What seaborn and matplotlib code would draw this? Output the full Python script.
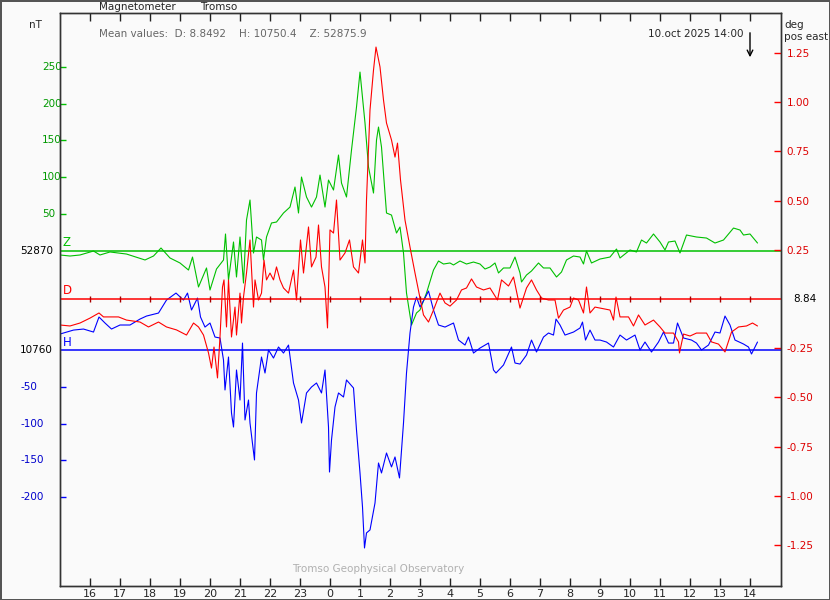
import matplotlib
matplotlib.use("Agg")
import matplotlib.pyplot as plt
import matplotlib.transforms as mtransforms
import pandas as pd
import seaborn as sns

# Baselines of the three components and the daily means
Z_BASE = 52870
H_BASE = 10760
D_BASE = 8.84
mean_D, mean_H, mean_Z = 8.8492, 10750.4, 52875.9

# Z: minutes after 15:00 UT, deviation from baseline in nT
z_min = [0, 20, 40, 67, 80, 100, 133, 170, 187, 202, 220, 240, 257, 265, 277, 293, 300, 313, 327, 331, 337, 347, 353,
         360, 367, 373, 380, 387, 393, 403, 407, 413, 423, 433, 447, 460, 470, 477, 483, 493, 503, 513, 520, 530, 537,
         547, 557, 563, 573, 583, 593, 600, 610, 617, 627, 633, 637, 643, 653, 663, 673, 680, 687, 693, 703, 713,
         720, 733, 747, 757, 767, 780, 787, 800, 813, 827, 840, 850, 860, 870, 877, 887, 900, 910, 920, 923, 933, 943,
         957, 967, 980, 993, 1003, 1013, 1027, 1040, 1047, 1053, 1063,
         1080, 1100, 1113, 1120, 1140, 1153, 1163, 1173, 1187, 1200, 1210, 1217, 1230, 1240, 1253, 1273, 1293, 1310,
         1327, 1347, 1360, 1367, 1380, 1395]
z_dev = [-6.1, -7.5, -6.1, -0.7, -6.1, -2.0, -4.8, -12.9, -7.5, 3.4, -10.2, -17.0, -26.6, -8.9, -49.7, -23.8, -53.8,
         -25.2, -12.9, 22.5, -40.2, 11.6, -36.1,
         18.4, -44.3, 41.5, 68.8, -3.4, 18.4, 14.3, -12.9, 18.4, 37.5, 38.8, 51.1, 59.2, 86.5, 51.1, 100.1, 72.9, 59.2,
         72.9, 102.8, 59.2, 96.0, 82.4, 130.1, 91.9, 72.9, 136.9, 195.5, 243.1, 173.7, 113.7, 78.3, 150.5, 168.2, 141.0,
         51.1, 48.3, 23.8, 32.0, -3.4, -57.9, -101.5, -85.1,
         -81.0, -57.9, -26.6, -14.3, -18.4, -17.0, -19.7, -14.3, -18.4, -15.7, -18.4, -25.2, -22.5, -17.0, -30.6, -23.8,
         -23.8, -8.9, -30.6, -42.9, -33.4, -27.9, -17.0, -23.8, -23.8, -36.1, -29.3, -12.9, -7.5, -8.9, -18.4, -0.7,
         -17.0,
         -11.6, -8.9, 2.0, -10.2, 0.7, -2.0, 14.3, 10.2, 22.5, 11.6, 0.7, 11.6, 12.9, -3.4, 21.1, 18.4, 17.0, 10.2,
         14.3, 30.6, 27.9, 21.1, 22.5, 10.2]

# D: minutes after 15:00 UT, deviation from 8.84 in degrees
d_min = [0, 20, 40, 60, 78, 87, 100, 117, 133, 160, 177, 197, 213, 233, 253, 267, 277, 287, 297, 303, 308, 315, 320,
         325, 328, 333, 337, 343, 350, 353,
         360, 363, 367, 373, 380, 387, 390, 397, 403, 408, 413, 420, 427, 433, 440, 447, 457, 467, 473, 481, 487, 497,
         503, 512, 517, 523, 530, 535, 540, 547, 553, 560, 570, 579, 587, 597, 605, 610, 613, 620, 627, 632, 640, 647,
         653, 663, 670, 675, 681, 690, 700, 710, 720,
         727, 737, 747, 760, 770, 780, 793, 803, 813, 823, 833, 847, 860, 875, 883, 897, 907, 920, 933, 943, 953, 963,
         977, 990, 997, 1007, 1020, 1027, 1037, 1047, 1053, 1060, 1070,
         1080, 1100, 1107, 1112, 1120, 1137, 1147, 1157, 1170, 1187, 1200, 1210, 1227, 1237, 1239, 1247, 1260, 1273,
         1293, 1303, 1317, 1330, 1343, 1357, 1373, 1385, 1395]
d_dev = [-0.132, -0.137, -0.122, -0.097, -0.071, -0.091, -0.091, -0.091, -0.107, -0.117, -0.142, -0.117, -0.142,
         -0.157, -0.183, -0.122, -0.142, -0.183, -0.274, -0.351, -0.244, -0.401, -0.193, 0.061, 0.097, -0.142, 0.097,
         -0.193, -0.041, -0.183,
         0.030, -0.122, 0.010, 0.132, 0.300, -0.041, 0.097, -0.005, 0.030, 0.198, 0.097, 0.132, 0.097, 0.163, 0.097,
         0.056, 0.030, 0.147, -0.005, 0.300, 0.132, 0.366, 0.163, 0.213, 0.376, 0.163, 0.061, -0.147, 0.351, 0.335,
         0.503, 0.198, 0.234, 0.300, 0.163, 0.132, 0.300, 0.183, 0.503, 0.960, 1.163, 1.280, 1.179, 1.011, 0.894,
         0.808, 0.721, 0.792, 0.605, 0.401, 0.264, 0.132, 0.005,
         -0.081, -0.117, -0.056, 0.030, -0.020, -0.036, -0.005, 0.046, 0.056, 0.102, 0.061, 0.046, 0.056, -0.005,
         0.097, 0.066, 0.112, -0.046, 0.056, 0.097, 0.046, 0.005, -0.005, -0.005, -0.097, -0.056, -0.041, 0.005,
         -0.005, -0.071, 0.061, -0.071, -0.041,
         -0.046, -0.056, -0.107, 0.010, -0.091, -0.091, -0.137, -0.081, -0.132, -0.107, -0.142, -0.173, -0.173,
         -0.218, -0.274, -0.178, -0.188, -0.173, -0.173, -0.218, -0.229, -0.269, -0.168, -0.142, -0.137, -0.122,
         -0.137]

# H: minutes after 15:00 UT, deviation from baseline in nT
h_min = [0, 27, 47, 67, 78, 90, 103, 120, 140, 160, 173, 197, 213, 232, 247, 255, 263, 275, 281, 290, 300, 310, 320,
         327, 330, 337, 343, 347, 353,
         360, 365, 370, 377, 380, 389, 393, 403, 410, 417, 427, 437, 447, 457, 467, 477, 483, 493, 503, 513, 523, 530,
         537, 539, 543, 550, 557, 567, 573, 587, 593, 600, 605, 609, 613, 620, 630, 637, 643, 653, 663, 670, 679, 687,
         693, 700, 707, 713,
         720, 730, 737, 747, 757, 770, 787, 797, 810, 817, 827, 840, 857, 867, 872, 887, 903, 910, 920, 933, 943, 953,
         967, 977, 987, 992, 1000, 1010, 1027, 1040, 1045, 1051, 1060, 1070,
         1080, 1093, 1107, 1120, 1133, 1150, 1160, 1170, 1183, 1197, 1207, 1217, 1227, 1235, 1247, 1263, 1273, 1283,
         1297, 1310, 1320, 1330, 1340, 1350, 1367, 1377, 1383, 1395]
h_dev = [22.2, 27.6, 29.0, 24.9, 45.4, 37.2, 29.0, 34.5, 34.5, 42.6, 46.7, 50.8, 68.5, 78.0, 68.5, 78.0, 54.9, 71.2,
         45.4, 31.7, 37.2, 18.1, 16.8, -13.2, -54.0, -9.1, -85.4, -104.5, -26.8,
         -67.7, 9.9, -94.9, -67.7, -99.0, -149.4, -58.1, -9.1, -30.9, 0.4, -10.5, 4.5, -3.7, 7.2, -44.5, -67.7, -99.0,
         -58.1, -50.0, -44.5, -58.1, -26.8, -104.5, -165.8, -122.2, -77.2, -58.1, -63.6, -40.4, -51.3, -108.6, -167.1,
         -213.4, -269.3, -248.8, -244.7, -208.0, -153.5, -167.1, -139.9, -158.9, -145.3, -173.9, -99.0, -30.9, 23.6,
         59.0, 72.6,
         59.0, 71.2, 80.8, 54.9, 34.5, 31.7, 37.2, 14.0, 7.2, 18.1, -3.7, 3.1, 9.9, -26.8, -30.9, -20.0, 4.5, -17.3,
         -18.7, -6.4, 14.0, -2.3, 18.1, 23.6, 20.8, 42.6, 34.5, 20.8, 24.9, 30.4, 38.5, 14.0, 27.6, 14.0,
         14.0, 11.3, 4.5, 20.8, 14.0, 20.8, 0.4, 11.3, -2.3, 11.3, 24.9, 9.9, 9.9, 37.2, 16.8, 14.0, 9.9, 0.4, 7.2,
         24.9, 23.6, 46.7, 34.5, 14.0, 8.6, 4.5, -5.0, 11.3]

# Axis scales
hours = list(range(16, 39))          # 16:00 .. 14:00 next day
z_ticks = [250, 200, 150, 100, 50]
h_ticks = [-50, -100, -150, -200]
d_ticks = [1.25, 1.0, 0.75, 0.5, 0.25, -0.25, -0.5, -0.75, -1.0, -1.25]
H_OFFSET = -136                      # where the H baseline sits on the nT scale

GREEN, RED, BLUE = "#00c000", "#ff0000", "#0000ff"
BG = "#fafafa"
FS = 7.5

sns.set_style("white")
plt.rcParams["font.family"] = ["DejaVu Sans"]

fig = plt.figure(figsize=(8.3, 6), dpi=100, facecolor=BG, edgecolor="#555555", linewidth=1)
ax = fig.add_axes([60 / 830, 14 / 600, 721 / 830, 573 / 600])
ax.set_facecolor(BG)

z_df = pd.DataFrame({"t": [15 + m / 60 for m in z_min], "v": z_dev})
h_df = pd.DataFrame({"t": [15 + m / 60 for m in h_min], "v": [v + H_OFFSET for v in h_dev]})
d_df = pd.DataFrame({"t": [15 + m / 60 for m in d_min], "v": d_dev})

# baselines
ax.axhline(0, color=GREEN, lw=1.1, zorder=1)
ax.axhline(H_OFFSET, color=BLUE, lw=1.1, zorder=1)

sns.lineplot(data=z_df, x="t", y="v", ax=ax, color=GREEN, lw=0.8, estimator=None, sort=False)
sns.lineplot(data=h_df, x="t", y="v", ax=ax, color=BLUE, lw=0.8, estimator=None, sort=False)

ax.set_xlim(15, 15 + 721 / 30)
ax.set_ylim(-457.1, 323.6)

# hour ticks (long every three hours)
ax.set_xticks(hours)
ax.set_xticklabels([str(h % 24) for h in hours])
ax.set_xticks([h for h in hours if h % 3 == 0], minor=True)
ax.tick_params(axis="x", which="major", direction="in", top=True, bottom=True, length=5.5, width=1,
               labelsize=FS + 0.5, pad=2, color="#222222")
ax.tick_params(axis="x", which="minor", direction="in", top=True, bottom=True, length=8, width=1, color="#222222")
ax.set_xlabel("")
ax.set_ylabel("")

# left scale: Z above its baseline, H below its baseline
ax.set_yticks(z_ticks + [v + H_OFFSET for v in h_ticks])
ax.set_yticklabels([])
ax.tick_params(axis="y", direction="in", length=4, width=1)
for tick, c in zip(ax.yaxis.get_major_ticks(), [GREEN] * len(z_ticks) + [BLUE] * len(h_ticks)):
    tick.tick1line.set_markeredgecolor(c)

lbl = mtransforms.blended_transform_factory(fig.transFigure, ax.transData)
for v in z_ticks:
    ax.text(42 / 830, v, str(v), transform=lbl, color="#009900", fontsize=FS, va="center", ha="left")
for v in h_ticks:
    ax.text(20 / 830, v + H_OFFSET, str(v), transform=lbl, color="#0000cc", fontsize=FS, va="center", ha="left")
ax.text(20 / 830, 0, str(Z_BASE), transform=lbl, color="black", fontsize=FS, va="center", ha="left")
ax.text(20 / 830, H_OFFSET, str(H_BASE), transform=lbl, color="black", fontsize=FS, va="center", ha="left")

for s in ax.spines.values():
    s.set_color("#333333")
    s.set_linewidth(1)

# right scale: D in degrees
ax2 = ax.twinx()
ax2.axhline(0, color=RED, lw=1.1, zorder=1)
sns.lineplot(data=d_df, x="t", y="v", ax=ax2, color=RED, lw=0.8, estimator=None, sort=False)
ax2.plot(hours, [0] * len(hours), ls="none", marker="|", ms=5, mew=1, color="#aa0000")
ax2.set_ylim(-1.458, 1.453)
ax2.set_yticks(d_ticks)
ax2.set_yticklabels([f"{v:.2f}" for v in d_ticks])
ax2.tick_params(axis="y", direction="in", length=5, width=1, color=RED, labelcolor="#dd0000",
                labelsize=FS, pad=4)
ax2.set_ylabel("")
ax2.set_xlabel("")
ax2.set_xlim(15, 15 + 721 / 30)
for s in ax2.spines.values():
    s.set_color("#333333")
    s.set_linewidth(1)
ax2.text(793 / 830, 0, f"{D_BASE:.2f}", transform=mtransforms.blended_transform_factory(fig.transFigure, ax2.transData),
         color="black", fontsize=FS, va="center", ha="left")

# component names beside baselines
ax.text(15.08, 2, "Z", color=GREEN, fontsize=FS + 1, va="bottom", ha="left")
ax.text(15.08, H_OFFSET + 2, "H", color=BLUE, fontsize=FS + 1, va="bottom", ha="left")
ax2.text(15.08, 0.012, "D", color=RED, fontsize=FS + 1, va="bottom", ha="left")


def px(x, y):
    return x / 830, 1 - y / 600


fig.text(*px(99, 7), "Magnetometer", fontsize=FS, va="center", ha="left")
fig.text(*px(200, 7), "Tromso", fontsize=FS, va="center", ha="left")
fig.text(*px(29, 25), "nT", fontsize=FS, va="center", ha="left")
fig.text(*px(99, 34), f"Mean values:  D: {mean_D}    H: {mean_H}    Z: {mean_Z}",
         fontsize=FS, va="center", ha="left", color="#666666")
fig.text(*px(648, 34), "10.oct 2025 14:00", fontsize=FS, va="center", ha="left")
fig.text(*px(784, 25), "deg", fontsize=FS, va="center", ha="left")
fig.text(*px(784, 37), "pos east", fontsize=FS, va="center", ha="left")
fig.text(*px(378, 569), "Tromso Geophysical Observatory", fontsize=FS, va="center", ha="center", color="#b0b0b0")

# arrow marking the current time
ax.annotate("", xy=(38, 1 - 47 / 573), xytext=(38, 1 - 17 / 573),
            xycoords=("data", "axes fraction"), textcoords=("data", "axes fraction"),
            arrowprops=dict(arrowstyle="->", color="black", lw=1))

fig.savefig("out.png", dpi=100, facecolor=BG, edgecolor=fig.get_edgecolor())
